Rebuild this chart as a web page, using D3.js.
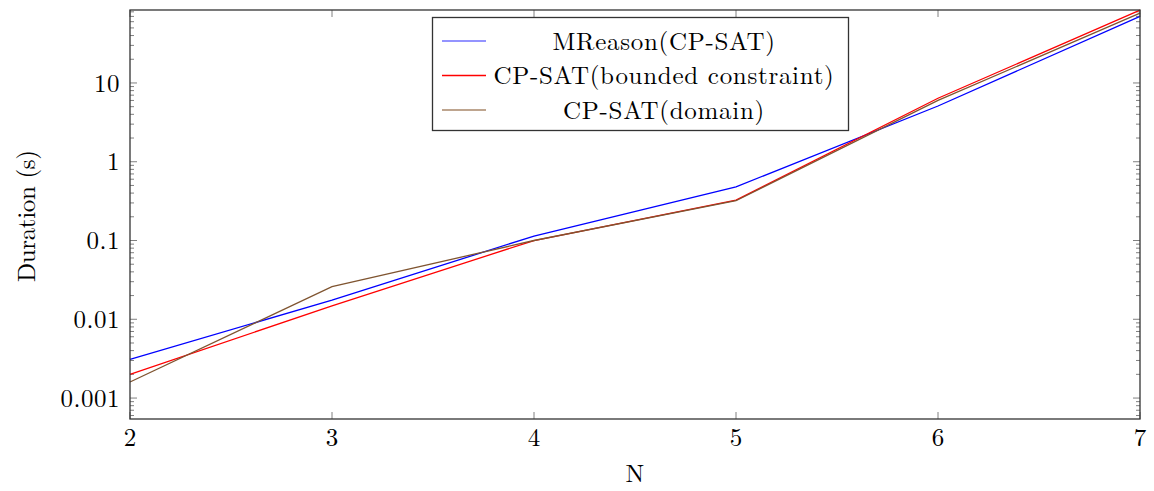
<!DOCTYPE html>
<html>
<head>
<meta charset="utf-8">
<script src="https://cdn.jsdelivr.net/npm/d3@7"></script>
<style>
  body { margin: 0; background: #fff; }
  text { font-family: "Latin Modern Roman", "Liberation Serif", serif; fill: #000; }
</style>
</head>
<body>
<div id="chart"></div>
<script>
const width = 1154;
const height = 491;
const margin = {top: 10, right: 14, bottom: 72, left: 130};

const nValues = [2, 3, 4, 5, 6, 7];
const mreason = [0.0031, 0.0175, 0.114, 0.48, 5.1, 70];
const boundedConstraint = [0.002, 0.0148, 0.1, 0.326, 6.4, 84];
const domainVals = [0.0016, 0.026, 0.1, 0.32, 6.0, 77];
const yTickValues = [0.001, 0.01, 0.1, 1, 10];
const yTickLabels = ["0.001", "0.01", "0.1", "1", "10"];

const series = [
  {name: "MReason(CP-SAT)", values: mreason, color: "#0000ff", legendColor: "#7070ff"},
  {name: "CP-SAT(bounded constraint)", values: boundedConstraint, color: "#ff0000", legendColor: "#ff0000"},
  {name: "CP-SAT(domain)", values: domainVals, color: "#7f5430", legendColor: "#a8876a"}
];

const x = d3.scaleLinear()
  .domain([2, 7])
  .range([margin.left, width - margin.right]);

const y = d3.scaleLog()
  .domain([0.000542, 84.4])
  .range([height - margin.bottom, margin.top]);

const svg = d3.select('#chart').append('svg')
  .attr('width', width)
  .attr('height', height);

// minor log ticks
const minor = [];
for (let e = -4; e <= 2; e++) {
  for (let k = 2; k <= 9; k++) {
    const v = k * Math.pow(10, e);
    if (v >= y.domain()[0] && v <= y.domain()[1]) minor.push(v);
  }
}

const tickG = svg.append('g').attr('stroke', '#808080').attr('stroke-width', 1);

[margin.left, width - margin.right].forEach((xx, i) => {
  const dir = i === 0 ? 1 : -1;
  tickG.selectAll(null).data(minor).join('line')
    .attr('x1', xx).attr('x2', xx + dir * 4)
    .attr('y1', d => y(d)).attr('y2', d => y(d));
  tickG.selectAll(null).data(yTickValues).join('line')
    .attr('x1', xx).attr('x2', xx + dir * 7)
    .attr('y1', d => y(d)).attr('y2', d => y(d));
});

[height - margin.bottom, margin.top].forEach((yy, i) => {
  const dir = i === 0 ? -1 : 1;
  tickG.selectAll(null).data(nValues).join('line')
    .attr('x1', d => x(d)).attr('x2', d => x(d))
    .attr('y1', yy).attr('y2', yy + dir * 7);
});

// lines
const line = d3.line()
  .x((d, i) => x(nValues[i]))
  .y(d => y(d));

svg.append('g').selectAll('path')
  .data(series)
  .join('path')
  .attr('fill', 'none')
  .attr('stroke', d => d.color)
  .attr('stroke-width', 1.3)
  .attr('d', d => line(d.values));

// frame
svg.append('rect')
  .attr('x', margin.left)
  .attr('y', margin.top)
  .attr('width', width - margin.left - margin.right)
  .attr('height', height - margin.top - margin.bottom)
  .attr('fill', 'none')
  .attr('stroke', '#333')
  .attr('stroke-width', 1.3);

// tick labels
svg.append('g').selectAll('text')
  .data(yTickValues)
  .join('text')
  .attr('x', margin.left - 10)
  .attr('y', d => y(d))
  .attr('dy', '0.35em')
  .attr('text-anchor', 'end')
  .style('font-size', '25px')
  .style('letter-spacing', '0.5px')
  .text((d, i) => yTickLabels[i]);

svg.append('g').selectAll('text')
  .data(nValues)
  .join('text')
  .attr('x', d => x(d))
  .attr('y', height - margin.bottom + 27)
  .attr('text-anchor', 'middle')
  .style('font-size', '25px')
  .text(d => d);

svg.append('text')
  .attr('x', (margin.left + width - margin.right) / 2)
  .attr('y', 482)
  .attr('text-anchor', 'middle')
  .style('font-size', '25px')
  .text('N');

svg.append('text')
  .attr('transform', `translate(35,216) rotate(-90)`)
  .attr('text-anchor', 'middle')
  .attr('textLength', 132)
  .attr('lengthAdjust', 'spacing')
  .style('font-size', '25px')
  .text('Duration (s)');

// legend
const legend = svg.append('g');
legend.append('rect')
  .attr('x', 432.5).attr('y', 17.5)
  .attr('width', 416).attr('height', 113)
  .attr('fill', '#fff')
  .attr('stroke', '#333')
  .attr('stroke-width', 1.3);

const rows = legend.selectAll('g.row')
  .data(series)
  .join('g')
  .attr('transform', (d, i) => `translate(0,${41 + i * 34.5})`);

rows.append('line')
  .attr('x1', 442).attr('x2', 486)
  .attr('stroke', d => d.legendColor)
  .attr('stroke-width', 1.3);

rows.append('text')
  .attr('x', 664)
  .attr('dy', '0.35em')
  .attr('text-anchor', 'middle')
  .style('font-size', '25px')
  .style('letter-spacing', '0.7px')
  .text(d => d.name);
</script>
</body>
</html>
